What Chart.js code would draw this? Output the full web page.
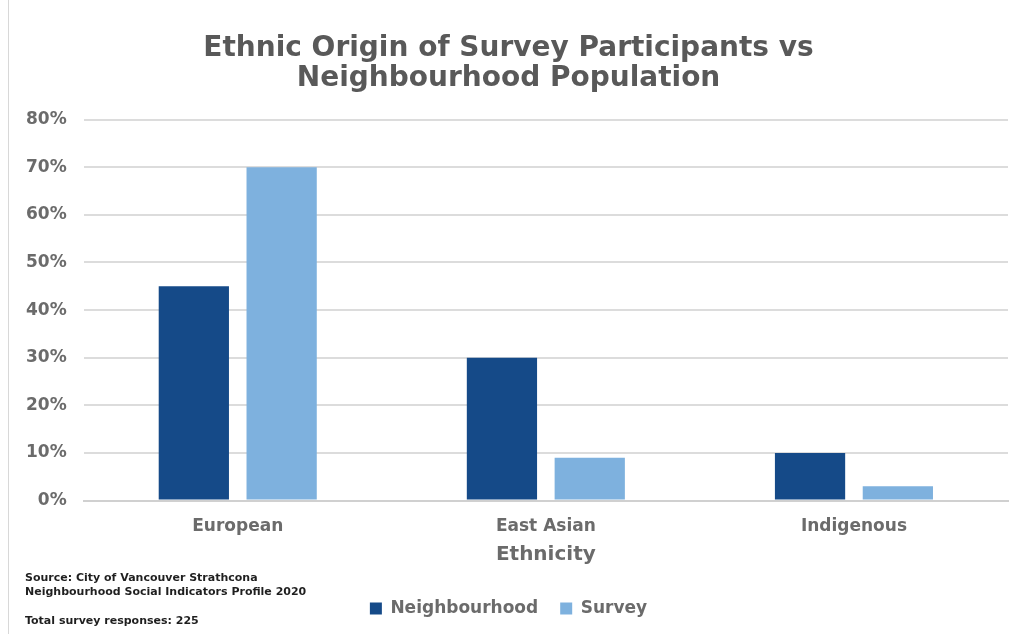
<!DOCTYPE html>
<html>
<head>
<meta charset="utf-8">
<script src="https://cdn.jsdelivr.net/npm/chart.js@4"></script>
<style>
  html, body { margin: 0; padding: 0; background: #fff; }
  #wrap { width: 1020px; height: 634px; position: relative; }
  #wrap:before { content: ''; position: absolute; left: 8px; top: 0; bottom: 0; border-left: 1px solid #d8d8d8; }
</style>
</head>
<body>
<div id="wrap"><canvas id="ethnic-chart" width="1020" height="634"></canvas></div>
<script>
const categories = ['European', 'East Asian', 'Indigenous'];
const neighbourhood = [45, 30, 10];
const survey = [70, 9, 3];
const yTicks = [0, 10, 20, 30, 40, 50, 60, 70, 80];

const sourceLines = [
    'Source: City of Vancouver Strathcona',
    'Neighbourhood Social Indicators Profile 2020',
    '',
    'Total survey responses: 225'
];

const FONT = '"DejaVu Sans", sans-serif';

// footnote in the lower left corner
const sourceNote = {
    id: 'sourceNote',
    afterDraw(chart) {
        const ctx = chart.ctx;
        ctx.save();
        ctx.fillStyle = '#1f1f1f';
        ctx.font = 'bold 11px ' + FONT;
        ctx.textBaseline = 'middle';
        const ys = [578, 592, 606, 621];
        sourceLines.forEach((line, i) => {
            if (line) ctx.fillText(line, 25, ys[i]);
        });
        ctx.restore();
    }
};

const ctx = document.getElementById('ethnic-chart').getContext('2d');
new Chart(ctx, {
    type: 'bar',
    data: {
        labels: categories,
        datasets: [{
            label: 'Neighbourhood',
            data: neighbourhood,
            backgroundColor: '#154a88',
            categoryPercentage: 0.57,
            barPercentage: 0.8
        }, {
            label: 'Survey',
            data: survey,
            backgroundColor: '#7eb1de',
            categoryPercentage: 0.57,
            barPercentage: 0.8
        }]
    },
    options: {
        responsive: false,
        animation: false,
        layout: { padding: { left: 9, right: 12, top: 0, bottom: 7 } },
        scales: {
            y: {
                min: 0,
                max: 80,
                afterBuildTicks: (axis) => { axis.ticks = yTicks.map(v => ({ value: v })); },
                ticks: {
                    color: '#6b6b6b',
                    font: { family: FONT, size: 17, weight: 'bold' },
                    padding: 17,
                    callback: (v) => v + '%'
                },
                grid: { color: '#dcdcdc', lineWidth: 2, drawTicks: false },
                border: { display: false }
            },
            x: {
                ticks: {
                    color: '#6b6b6b',
                    font: { family: FONT, size: 17, weight: 'bold' },
                    padding: 8
                },
                grid: { display: false },
                border: { color: '#d0d0d0', width: 2 },
                title: {
                    display: true,
                    text: 'Ethnicity',
                    color: '#6b6b6b',
                    font: { family: FONT, size: 20, weight: 'bold', lineHeight: 1.0 },
                    padding: { top: 0, bottom: 13 }
                }
            }
        },
        plugins: {
            title: {
                display: true,
                text: ['Ethnic Origin of Survey Participants vs', 'Neighbourhood Population'],
                color: '#595959',
                font: { family: FONT, size: 28, weight: 'bold', lineHeight: 1.1 },
                padding: { top: 33, bottom: 25 }
            },
            legend: {
                position: 'bottom',
                labels: {
                    color: '#6b6b6b',
                    font: { family: FONT, size: 17, weight: 'bold' },
                    boxWidth: 12,
                    boxHeight: 12,
                    padding: 22
                }
            },
            tooltip: { enabled: false }
        }
    },
    plugins: [sourceNote]
});
</script>
</body>
</html>
